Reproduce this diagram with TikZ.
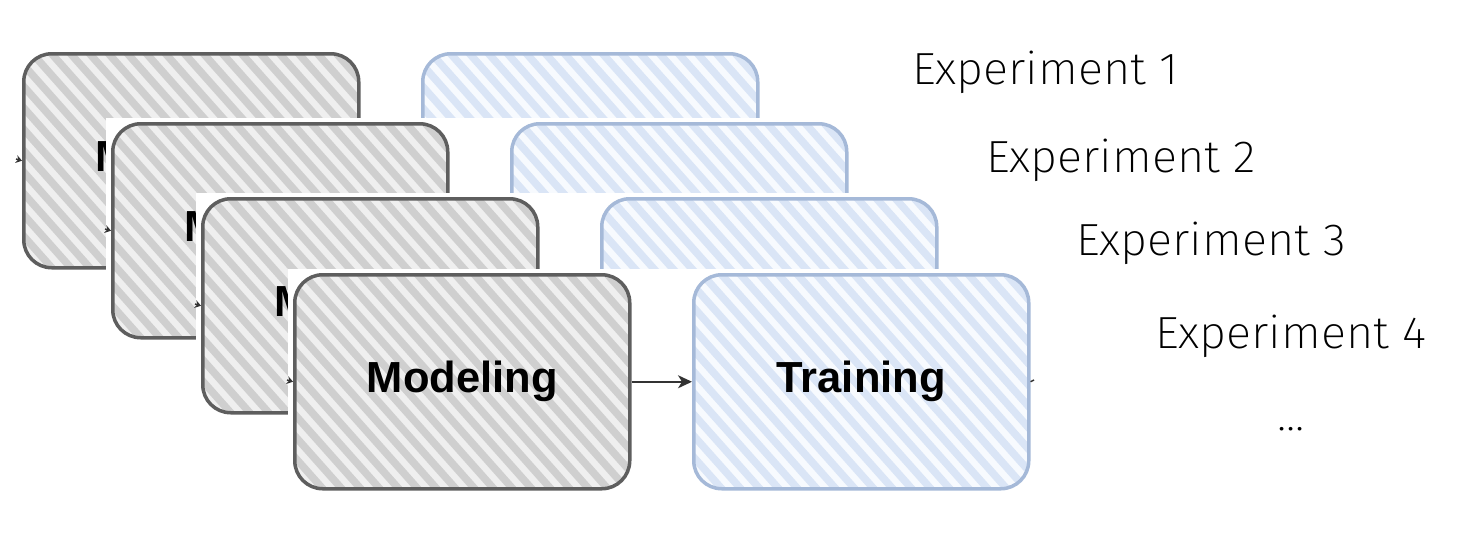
\documentclass[tikz,border=0pt]{standalone}
\usepackage{fontspec}
\setmainfont{Liberation Sans}
\newfontfamily\expfont{Fira Sans}[UprightFont={* ExtraLight}, FakeStretch=1.04]
\usetikzlibrary{arrows.meta,calc}
\definecolor{grayline}{HTML}{5E5E5E}
\definecolor{graybg}{HTML}{EFEFEF}
\definecolor{graystripe}{HTML}{CFCFCF}
\definecolor{blueline}{HTML}{A5B9D8}
\definecolor{bluebg}{HTML}{F7FAFE}
\definecolor{bluestripe}{HTML}{DAE5F6}
\definecolor{conn}{HTML}{333333}
\newcommand\myhatch[1]{%
  \foreach \s in {-266,-247,...,380}
    \draw[#1, line width=7.5pt] ($(path picture bounding box.north west)+(\s pt,10pt)$) -- ++(215pt,-242pt);}
\tikzset{
  box/.style={draw, line width=3.5pt, rounded corners=28pt, minimum width=335pt,
    minimum height=214pt, inner sep=0pt, anchor=north west,
    font=\fontsize{43.5}{50}\selectfont\bfseries},
  graybox/.style={box, draw=grayline, fill=graybg, path picture={\myhatch{graystripe}}},
  bluebox/.style={box, draw=blueline, fill=bluebg, path picture={\myhatch{bluestripe}}},
  conn/.style={draw=conn, line width=1.5pt},
  arr/.style={conn, -{Stealth[length=14pt,width=13pt,inset=4pt]}},
  inarr/.style={conn, -{Stealth[length=6pt,width=8pt,inset=2pt]}},
  explabel/.style={anchor=base west, inner sep=0pt, font=\expfont\fontsize{45}{50}\selectfont},
}
\newcommand\mylayer[3]{%
  \fill[white] (#1-5,#2-4) rectangle (#1+750,#2+224);
  \coordinate (in#3) at (#1-6,#2+107);
  \node[graybox] (g#3) at (#1,#2) {\raisebox{-3pt}{Modeling}};
  \node[bluebox] (b#3) at (#1+399,#2) {\raisebox{-3pt}{Training}};
  \coordinate (out#3) at (#1+741,#2+107);
  \draw[inarr] (in#3) -- (g#3.west);
  \draw[arr] (g#3.east) -- (b#3.west);
  \draw[conn] (b#3.east) -- (out#3);
}
\begin{document}
\begin{tikzpicture}[x=1pt,y=-1pt]
\useasboundingbox (0,0) rectangle (1462,542);
\fill[white] (0,0) rectangle (1462,542);
\mylayer{22}{52}{1}
\mylayer{111}{122}{2}
\mylayer{201}{197}{3}
\mylayer{293}{273}{4}
\node[explabel] (e1) at (912,84) {Experiment 1};
\node[explabel] (e2) at (986,172) {Experiment 2};
\node[explabel] (e3) at (1076,255) {Experiment 3};
\node[explabel] (e4) at (1155,348) {Experiment 4};
\node[explabel] (e5) at (1277,430) {...};
\end{tikzpicture}
\end{document}
